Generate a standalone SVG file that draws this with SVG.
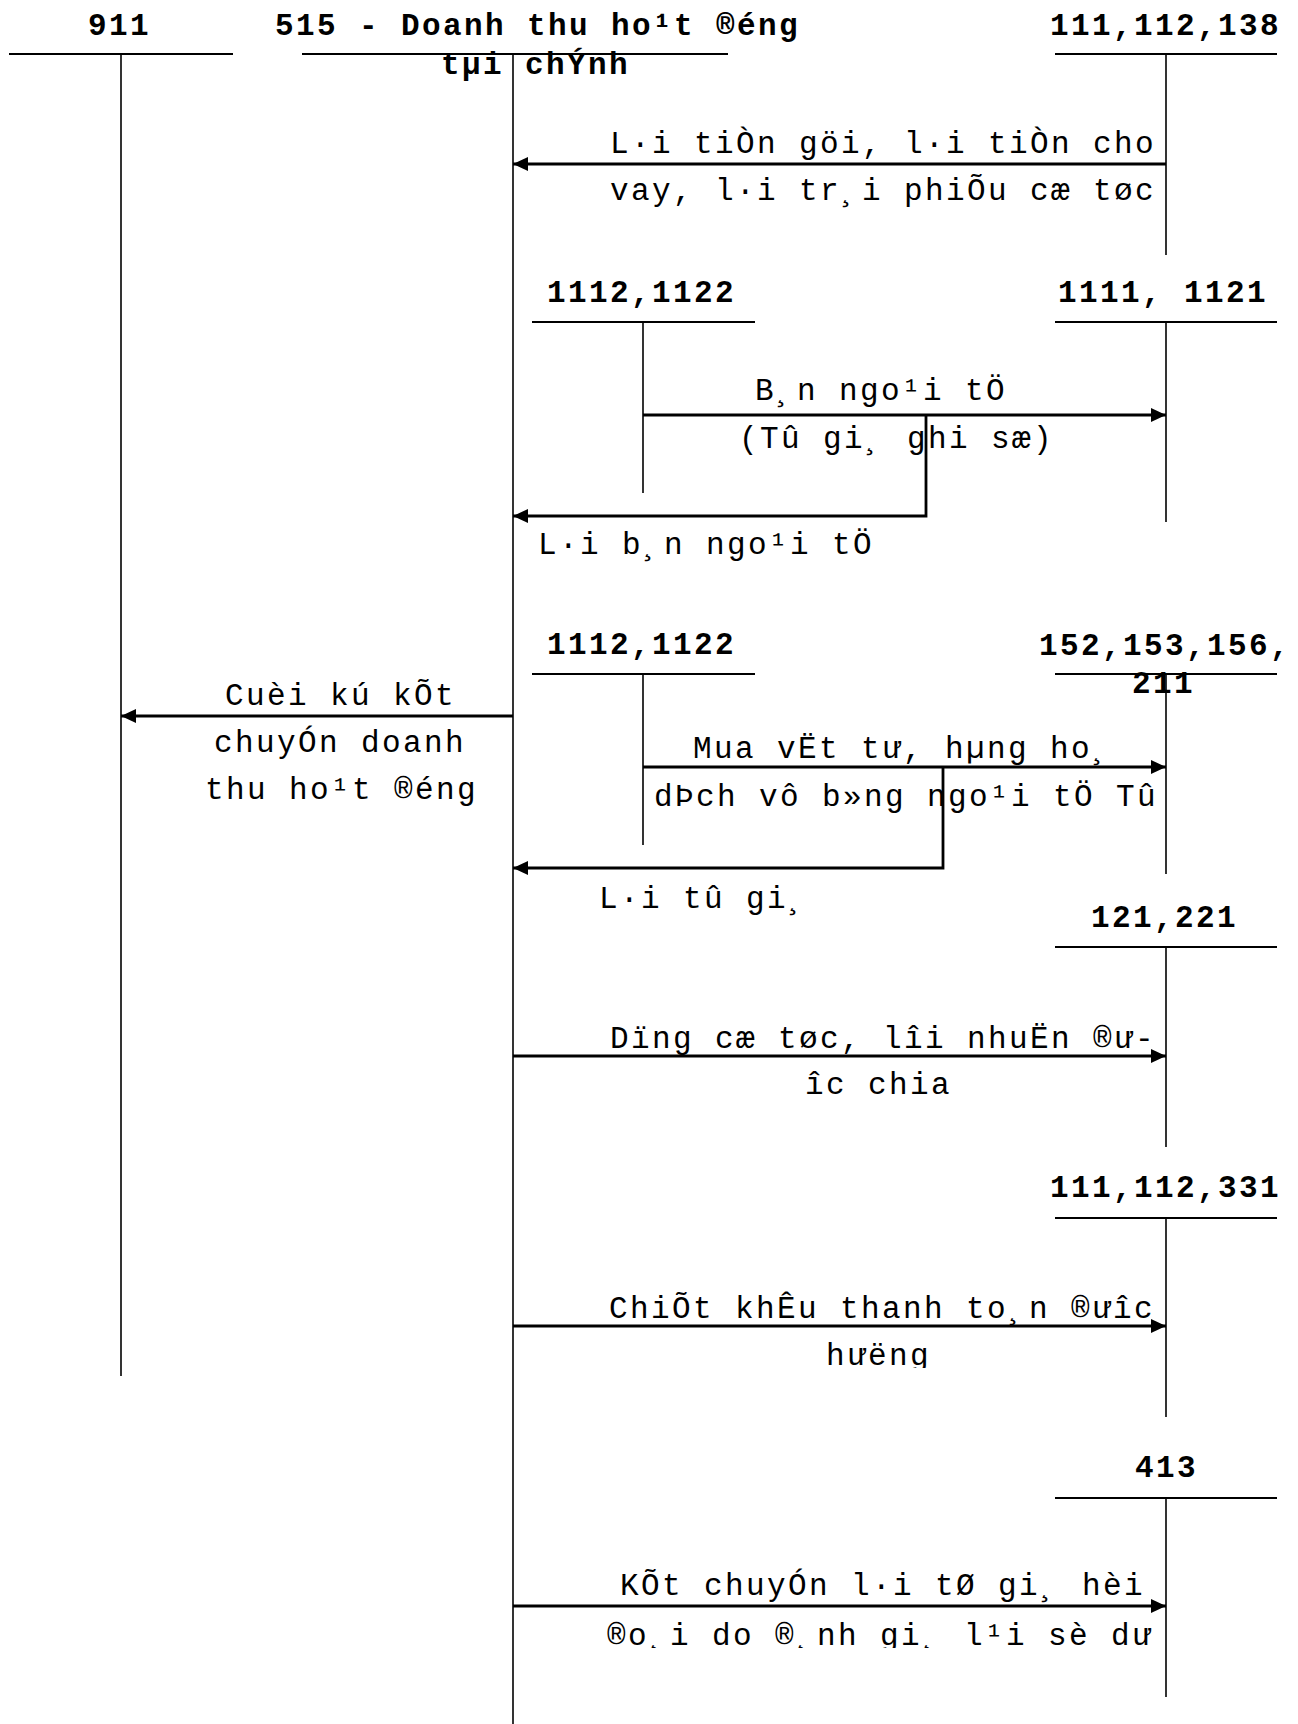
<svg xmlns="http://www.w3.org/2000/svg" width="1298" height="1724" viewBox="0 0 1298 1724">
<style>
.t{font-family:"Liberation Mono","Courier New",monospace;font-weight:bold;font-size:31px;letter-spacing:2.4px;fill:#000}
.b{font-family:"Liberation Mono","Courier New",monospace;font-size:31px;letter-spacing:2.4px;fill:#000;white-space:pre}
.h{stroke:#000;stroke-width:2;fill:none}
.v{stroke:#000;stroke-width:1.6;fill:none}
.a{stroke:#000;stroke-width:2.8;fill:none;marker-end:url(#ah)}
</style>
<defs>
<marker id="ah" markerUnits="userSpaceOnUse" markerWidth="16" markerHeight="16" refX="15" refY="7" orient="auto">
<path d="M0,0 L15,7 L0,14 Z" fill="#000"/>
</marker>
<clipPath id="clip1"><rect x="500" y="1330" width="700" height="38"/></clipPath>
<clipPath id="clip2"><rect x="500" y="1610" width="700" height="38"/></clipPath>
</defs>
<rect width="1298" height="1724" fill="#fff"/>

<g id="acc-911">
<text class="t" x="88" y="35">911</text>
<line class="h" x1="9" y1="54" x2="233" y2="54"/>
<line class="v" x1="121" y1="54" x2="121" y2="1376"/>
</g>
<g id="acc-515">
<text class="t" x="275" y="35">515 - Doanh thu ho¹t ®éng</text>
<text class="t" x="441" y="74">tµi chÝnh</text>
<line class="h" x1="302" y1="54" x2="728" y2="54"/>
<line class="v" x1="513" y1="54" x2="513" y2="1724"/>
</g>
<g id="acc-111-112-138">
<text class="t" x="1050" y="35">111,112,138</text>
<line class="h" x1="1055" y1="54" x2="1277" y2="54"/>
<line class="v" x1="1166" y1="54" x2="1166" y2="255"/>
</g>
<g id="acc-1112-1122-a">
<text class="t" x="547" y="302">1112,1122</text>
<line class="h" x1="532" y1="322" x2="755" y2="322"/>
<line class="v" x1="643" y1="322" x2="643" y2="493"/>
</g>
<g id="acc-1111-1121">
<text class="t" x="1058" y="302">1111, 1121</text>
<line class="h" x1="1055" y1="322" x2="1277" y2="322"/>
<line class="v" x1="1166" y1="322" x2="1166" y2="522"/>
</g>
<g id="acc-1112-1122-b">
<text class="t" x="547" y="654">1112,1122</text>
<line class="h" x1="532" y1="674" x2="755" y2="674"/>
<line class="v" x1="643" y1="674" x2="643" y2="845"/>
</g>
<g id="acc-152-153-156-211">
<text class="t" x="1039" y="655">152,153,156,</text>
<text class="t" x="1132" y="693">211</text>
<line class="h" x1="1055" y1="674" x2="1277" y2="674"/>
<line class="v" x1="1166" y1="674" x2="1166" y2="874"/>
</g>
<g id="acc-121-221">
<text class="t" x="1091" y="927">121,221</text>
<line class="h" x1="1055" y1="947" x2="1277" y2="947"/>
<line class="v" x1="1166" y1="947" x2="1166" y2="1147"/>
</g>
<g id="acc-111-112-331">
<text class="t" x="1050" y="1197">111,112,331</text>
<line class="h" x1="1055" y1="1218" x2="1277" y2="1218"/>
<line class="v" x1="1166" y1="1218" x2="1166" y2="1417"/>
</g>
<g id="acc-413">
<text class="t" x="1135" y="1477">413</text>
<line class="h" x1="1055" y1="1498" x2="1277" y2="1498"/>
<line class="v" x1="1166" y1="1498" x2="1166" y2="1697"/>
</g>

<g id="connectors">
<path class="a" d="M1166,164 H513"/>
<path class="a" d="M643,415 H1166"/>
<path class="a" d="M926,415 V516 H513"/>
<path class="a" d="M643,767 H1166"/>
<path class="a" d="M943,767 V868 H513"/>
<path class="a" d="M513,716 H121"/>
<path class="a" d="M513,1056 H1166"/>
<path class="a" d="M513,1326 H1166"/>
<path class="a" d="M513,1606 H1166"/>
</g>

<g id="labels">
<text class="b" x="610" y="153">L·i tiÒn göi, l·i tiÒn cho</text>
<text class="b" x="610" y="200">vay, l·i tr¸i phiÕu cæ tøc</text>
<text class="b" x="755" y="400">B¸n ngo¹i tÖ</text>
<text class="b" x="739" y="448">(Tû gi¸ ghi sæ)</text>
<text class="b" x="538" y="554">L·i b¸n ngo¹i tÖ</text>
<text class="b" x="693" y="758">Mua vËt tư, hµng ho¸</text>
<text class="b" x="654" y="806">dÞch vô b»ng ngo¹i tÖ Tû</text>
<text class="b" x="599" y="908">L·i tû gi¸</text>
<text class="b" x="225" y="705">Cuèi kú kÕt</text>
<text class="b" x="214" y="752">chuyÓn doanh</text>
<text class="b" x="205" y="799">thu ho¹t ®éng</text>
<text class="b" x="610" y="1048">Dïng cæ tøc, lîi nhuËn ®ư-</text>
<text class="b" x="805" y="1094">îc chia</text>
<text class="b" x="609" y="1318">ChiÕt khÊu thanh to¸n ®ưîc</text>
<text class="b" x="826" y="1365" clip-path="url(#clip1)">hưëng</text>
<text class="b" x="620" y="1595">KÕt chuyÓn l·i tØ gi¸ hèi</text>
<text class="b" x="607" y="1645" clip-path="url(#clip2)">®o¸i do ®¸nh gi¸ l¹i sè dư</text>
</g>
</svg>
